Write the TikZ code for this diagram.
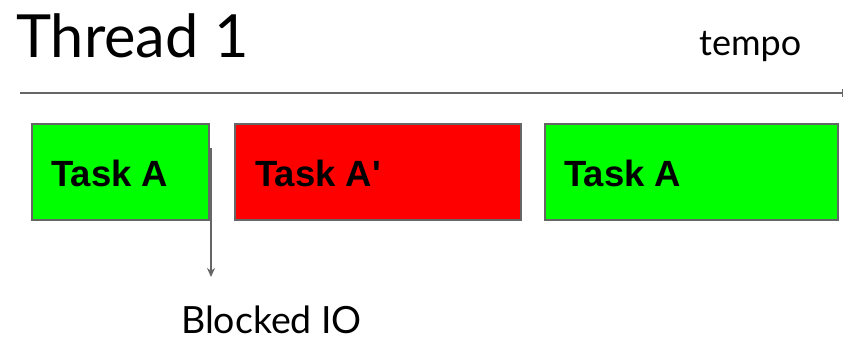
\documentclass[tikz,border=0pt]{standalone}
\usepackage{fontspec}
\setmainfont{Lato}
\newfontfamily\taskfont{Liberation Sans}
\usetikzlibrary{positioning,calc,arrows.meta}
\definecolor{linegray}{HTML}{666666}
\definecolor{taskgreen}{HTML}{00FF00}
\definecolor{taskred}{HTML}{FF0000}
\tikzset{
  taskbox/.style={draw=linegray, line width=1.6pt},
  tasklabel/.style={anchor=base west, inner sep=0pt, font=\taskfont\bfseries\fontsize{36.5}{42}\selectfont},
}

\begin{document}
\begin{tikzpicture}[x=1pt,y=-1pt]
        \useasboundingbox (0,0) rectangle (844,340);

        % Title and time axis
        \node[anchor=base west, inner sep=0pt, font=\fontsize{59.5}{66}\selectfont] (title) at (16,57) {Thread 1};
        \node[anchor=base west, inner sep=0pt, font=\fontsize{36}{42}\selectfont] (tempo) at (699,55) {tempo};
        \coordinate (t0) at (20,93);
        \coordinate (t1) at (843,93);
        \draw[linegray, line width=1.3pt, -{Bar[width=8pt]}] (t0) -- (t1);

        % Tasks
        \draw[taskbox, fill=taskgreen] (32,124) rectangle (209,220);
        \node[tasklabel] (taskA) at (51,186) {Task A};

        \draw[taskbox, fill=taskred] (235,124) rectangle (521,220);
        \node[tasklabel] (taskAp) at (255,186) {Task A'};

        \draw[taskbox, fill=taskgreen] (545,124) rectangle (838,220);
        \node[tasklabel] (taskA2) at (564,186) {Task A};

        % Blocked IO
        \coordinate (blk) at (211,148);
        \coordinate (blkend) at (211,277);
        \draw[linegray, line width=1.5pt, -{Stealth[length=9pt, width=8pt]}] (blk) -- (blkend);
        \node[anchor=base west, inner sep=0pt, font=\fontsize{37.5}{42}\selectfont] (io) at (181,333) {Blocked IO};
\end{tikzpicture}
\end{document}
